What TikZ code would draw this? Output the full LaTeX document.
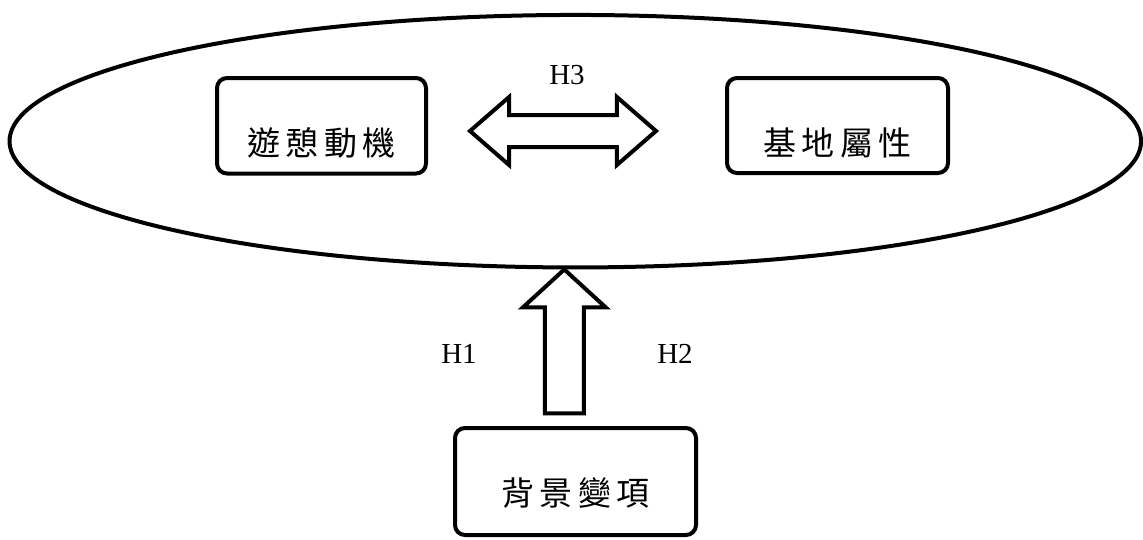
\documentclass[tikz,border=0pt]{standalone}
\usepackage{fontspec}
\setmainfont{Liberation Serif}
\newfontfamily\cjk[LetterSpace=17]{Noto Sans CJK TC}
\usetikzlibrary{calc,positioning,shapes.geometric,shapes.arrows}

\begin{document}
\begin{tikzpicture}[x=1pt,y=-1pt,every path/.style={line width=4pt},
	box/.style={draw,rounded corners=10pt,inner sep=0pt,text height=60pt,text depth=1.5pt,font=\cjk\fontsize{33}{33}\selectfont},
	hlabel/.style={font=\fontsize{29}{29}\selectfont}]
	\useasboundingbox (0,0) rectangle (1143,539);

	\node[draw,ellipse,minimum width=1131.5pt,minimum height=252.5pt,inner sep=0pt] (field) at (575.3,141.2) {};

	\node[box,minimum width=209pt,minimum height=95.5pt] (motive) at (321.5,125.75) {遊憩動機};
	\node[box,minimum width=221pt,minimum height=95pt,text depth=1pt] (site) at (837.5,125.5) {基地屬性};
	\node[box,minimum width=241pt,minimum height=107pt,text depth=13pt] (background) at (575.5,481.5) {背景變項};

	% fat arrows
	\node[draw,double arrow,double arrow head extend=18pt,double arrow tip angle=82,minimum height=186pt,minimum width=64pt,inner sep=14pt,outer sep=0pt] (link) at (563,131) {};
	\node[draw,single arrow,single arrow head extend=22pt,single arrow tip angle=95,minimum height=144pt,minimum width=79pt,inner sep=17.5pt,outer sep=0pt,rotate=90,anchor=tip] (push) at ($(field.south)+(-11,0)$) {};

	\node[hlabel] (h3) at (567,75) {H3};
	\node[hlabel] (h1) at (459,354) {H1};
	\node[hlabel] (h2) at (675,354) {H2};
\end{tikzpicture}
\end{document}
